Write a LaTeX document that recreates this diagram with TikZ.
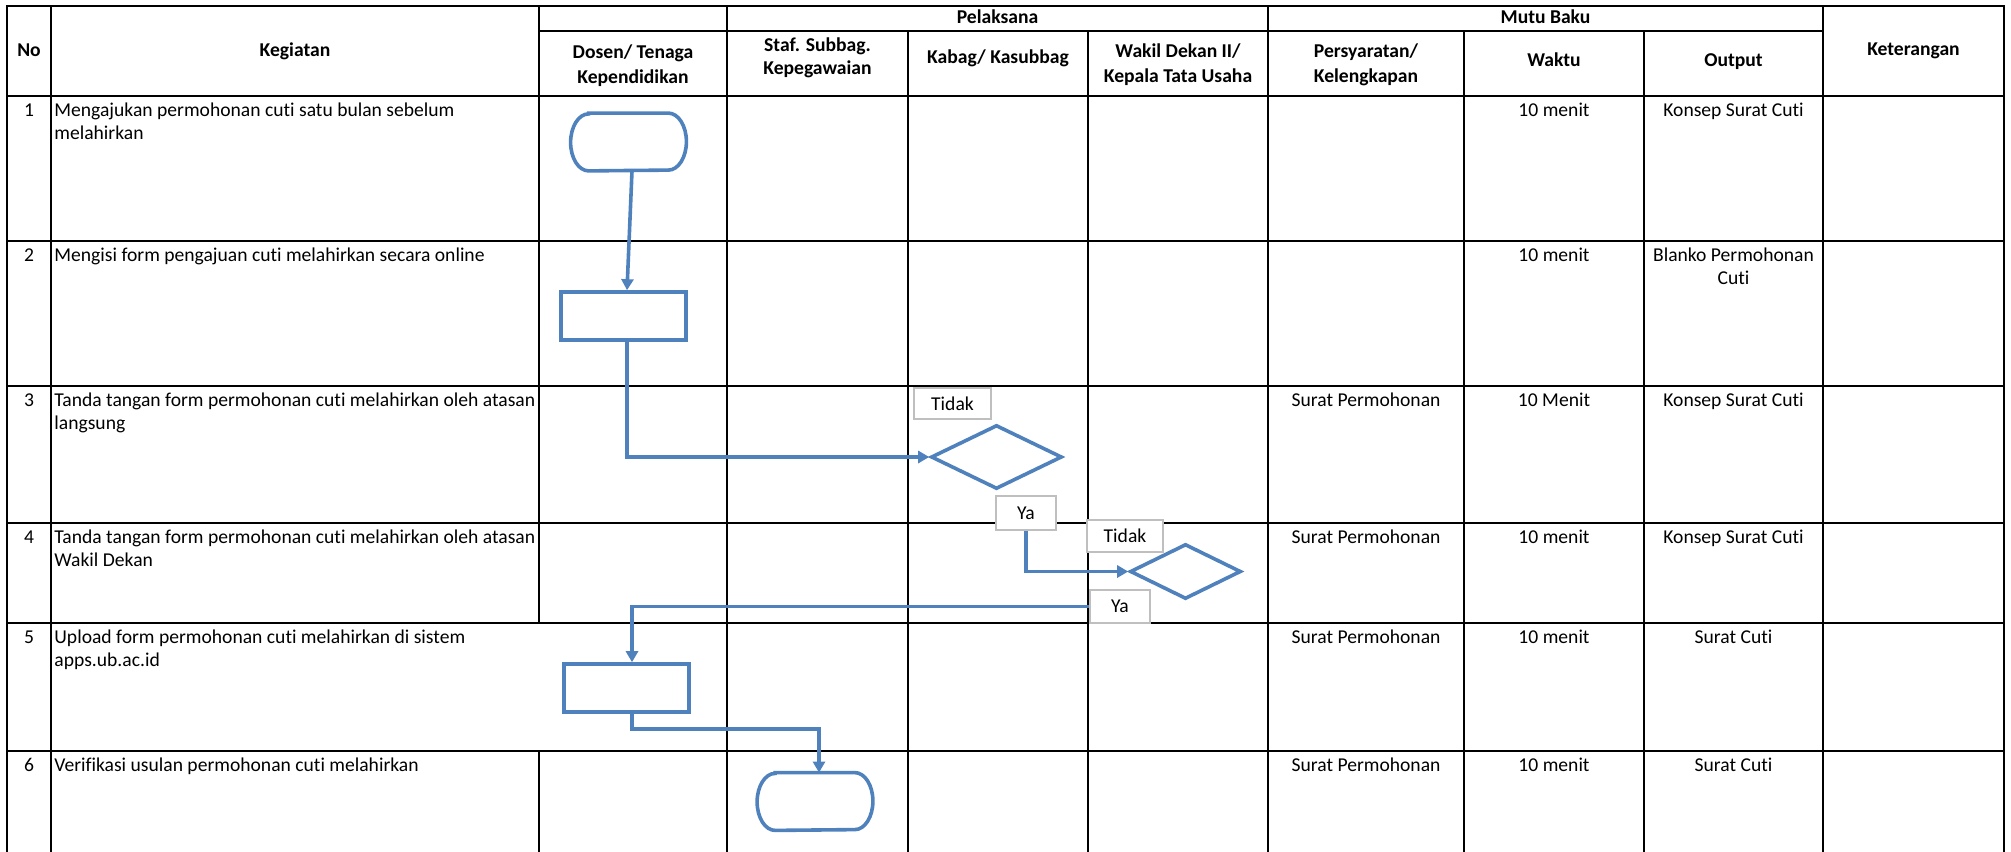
\documentclass[tikz,border=0pt]{standalone}
\usepackage{fontspec}
\setmainfont{Carlito}[Ligatures=NoCommon]
\usetikzlibrary{arrows.meta,shapes.geometric}
\definecolor{flowblue}{RGB}{79,129,189}
\definecolor{lblgray}{RGB}{191,191,191}
\begin{document}
\begin{tikzpicture}[x=0.5pt,y=-0.5pt,
  gridline/.style={line width=1.1pt,black,line cap=rect},
  hd/.style={font=\fontsize{9.8}{11.5}\selectfont\bfseries,anchor=base,inner sep=0pt},
  tx/.style={font=\fontsize{9.8}{11.5}\selectfont,anchor=base west,inner sep=0pt},
  tc/.style={font=\fontsize{9.8}{11.5}\selectfont,anchor=base,inner sep=0pt},
  flow/.style={draw=flowblue,line width=1.8pt},
  arr/.style={flow,-{Triangle[length=5.5pt,width=6pt]}},
  procbox/.style={flow,fill=white,rectangle,inner sep=0pt,minimum width=62.5pt,minimum height=24pt},
  decbox/.style={flow,fill=white,diamond,inner sep=0pt},
  termnode/.style={rectangle,inner sep=0pt,minimum width=57.5pt,minimum height=28.5pt},
  lbl/.style={draw=lblgray,line width=0.6pt,fill=white,inner sep=0pt,font=\fontsize{9.8}{11.5}\selectfont}]

\path[use as bounding box] (0,0) rectangle (2011,851);

% grid
\draw[gridline] (7,6) -- (2004,6);
\draw[gridline] (539,31) -- (1823,31);
\foreach \y in {96,241,386,523,623,751} \draw[gridline] (7,\y) -- (2004,\y);
\foreach \x in {7,51,727,1268,1823,2004} \draw[gridline] (\x,6) -- (\x,855);
\draw[gridline] (539,6) -- (539,623) (539,751) -- (539,855);
\foreach \x in {908,1088,1464,1644} \draw[gridline] (\x,31) -- (\x,855);

% header
\node[hd] (hno) at (29,56) {No};
\node[hd] (hkeg) at (295,56) {Kegiatan};
\node[hd] (hpel) at (997.5,24) {Pelaksana};
\node[hd] (hmutu) at (1545.5,24) {Mutu Baku};
\node[hd] (hdos1) at (633,58) {Dosen/ Tenaga};
\node[hd] (hdos2) at (633,83) {Kependidikan};
\node[hd] (hstaf1) at (817.5,51) {Staf. Subbag.};
\node[hd] (hstaf2) at (817.5,74) {Kepegawaian};
\node[hd] (hkab) at (998,63) {Kabag/ Kasubbag};
\node[hd] (hwd1) at (1178,57) {Wakil Dekan II/};
\node[hd] (hwd2) at (1178,82) {Kepala Tata Usaha};
\node[hd] (hper1) at (1366,57) {Persyaratan/};
\node[hd] (hper2) at (1366,82) {Kelengkapan};
\node[hd] (hwak) at (1554,66) {Waktu};
\node[hd] (hout) at (1733.5,66) {Output};
\node[hd] (hket) at (1913.5,55) {Keterangan};

% row 1
\node[tc] (n1) at (29,116) {1};
\node[tx] (k1a) at (54,116) {Mengajukan permohonan cuti satu bulan sebelum};
\node[tx] (k1b) at (54,139) {melahirkan};
\node[tc] (w1) at (1554,116) {10 menit};
\node[tc] (o1) at (1733.5,116) {Konsep Surat Cuti};
% row 2
\node[tc] (n2) at (29,261) {2};
\node[tx] (k2a) at (54,261) {Mengisi form pengajuan cuti melahirkan secara online};
\node[tc] (w2) at (1554,261) {10 menit};
\node[tc] (o2a) at (1733.5,261) {Blanko Permohonan};
\node[tc] (o2b) at (1733.5,284) {Cuti};
% row 3
\node[tc] (n3) at (29,406) {3};
\node[tx] (k3a) at (54,406) {Tanda tangan form permohonan cuti melahirkan oleh atasan};
\node[tx] (k3b) at (54,429) {langsung};
\node[tc] (s3) at (1366,406) {Surat Permohonan};
\node[tc] (w3) at (1554,406) {10 Menit};
\node[tc] (o3) at (1733.5,406) {Konsep Surat Cuti};
% row 4
\node[tc] (n4) at (29,543) {4};
\node[tx] (k4a) at (54,543) {Tanda tangan form permohonan cuti melahirkan oleh atasan};
\node[tx] (k4b) at (54,566) {Wakil Dekan};
\node[tc] (s4) at (1366,543) {Surat Permohonan};
\node[tc] (w4) at (1554,543) {10 menit};
\node[tc] (o4) at (1733.5,543) {Konsep Surat Cuti};
% row 5
\node[tc] (n5) at (29,643) {5};
\node[tx] (k5a) at (54,643) {Upload form permohonan cuti melahirkan di sistem};
\node[tx] (k5b) at (54,666) {apps.ub.ac.id};
\node[tc] (s5) at (1366,643) {Surat Permohonan};
\node[tc] (w5) at (1554,643) {10 menit};
\node[tc] (o5) at (1733.5,643) {Surat Cuti};
% row 6
\node[tc] (n6) at (29,771) {6};
\node[tx] (k6a) at (54,771) {Verifikasi usulan permohonan cuti melahirkan};
\node[tc] (s6) at (1366,771) {Surat Permohonan};
\node[tc] (w6) at (1554,771) {10 menit};
\node[tc] (o6) at (1733.5,771) {Surat Cuti};

% flow shapes
\node[termnode] (t1) at (628.5,142) {};
\draw[flow,fill=white] ([xshift=9pt]t1.north west) -- ([xshift=-9pt]t1.north east)
  arc[start angle=90,end angle=-90,x radius=9pt,y radius=14.25pt]
  -- ([xshift=9pt]t1.south west)
  arc[start angle=270,end angle=90,x radius=9pt,y radius=14.25pt] -- cycle;
\node[procbox] (p1) at (623.5,316) {};
\node[decbox,minimum width=65.5pt,minimum height=32pt] (d1) at (996.5,457) {};
\node[decbox,minimum width=55.5pt,minimum height=27.5pt] (d2) at (1185.5,571.5) {};
\node[procbox] (p3) at (626.5,688) {};
\node[termnode] (t2) at (815,801.5) {};
\draw[flow,fill=white] ([xshift=9pt]t2.north west) -- ([xshift=-9pt]t2.north east)
  arc[start angle=90,end angle=-90,x radius=9pt,y radius=14.25pt]
  -- ([xshift=9pt]t2.south west)
  arc[start angle=270,end angle=90,x radius=9pt,y radius=14.25pt] -- cycle;

% labels
\node[lbl,minimum width=38.5pt,minimum height=15.5pt] (tidak1) at (952.5,403.5) {Tidak};
\node[lbl,minimum width=30pt,minimum height=17pt] (ya1) at (1026,513) {Ya};
\node[lbl,minimum width=38pt,minimum height=16pt] (tidak2) at (1125,536) {Tidak};
\node[lbl,minimum width=30pt,minimum height=16.5pt] (ya2) at (1120,606.5) {Ya};

% connectors
\draw[arr] ([xshift=1.75pt]t1.south) -- ([xshift=1.75pt]p1.north);
\draw[arr] ([xshift=1.75pt]p1.south) |- (d1.west);
\draw[arr] (ya1.south) |- (d2.west);
\draw[arr] (ya2.west) -| ([xshift=2.75pt]p3.north);
\draw[arr] ([xshift=2.75pt]p3.south) -- ++(0,15) -| ([xshift=2pt]t2.north);
\end{tikzpicture}
\end{document}
